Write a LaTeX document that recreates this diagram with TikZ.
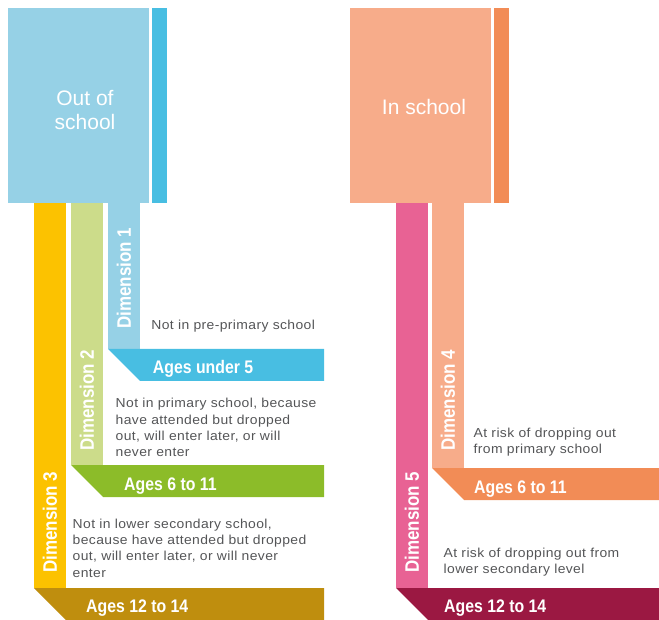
\documentclass[tikz,border=0pt]{standalone}
\usepackage{fontspec}
\setmainfont{Liberation Sans}
\newfontfamily\condfont[FakeStretch=0.87]{Liberation Sans}
\newfontfamily\descfont[FakeStretch=1.07,LetterSpace=3]{Liberation Sans}
\definecolor{boxblue}{HTML}{96D1E6}
\definecolor{deepblue}{HTML}{48BEE2}
\definecolor{palegreen}{HTML}{CCDC8A}
\definecolor{deepgreen}{HTML}{8CBC29}
\definecolor{yellowbar}{HTML}{FCC200}
\definecolor{darkgold}{HTML}{BF8E0E}
\definecolor{salmon}{HTML}{F7AC8A}
\definecolor{deeporange}{HTML}{F28C56}
\definecolor{pinkbar}{HTML}{E86294}
\definecolor{maroon}{HTML}{9B1842}
\definecolor{descgray}{HTML}{545557}
\begin{document}
\begin{tikzpicture}[x=1pt,y=-1pt,
  dimlabel/.style={font=\condfont\bfseries\fontsize{19.5}{20}\selectfont, text=white, rotate=90, anchor=west, inner sep=0pt},
  agelabel/.style={font=\condfont\bfseries\fontsize{18.2}{20}\selectfont, text=white, anchor=base west, inner sep=0pt},
  desc/.style={font=\descfont\fontsize{13}{16.3}\selectfont, text=descgray, align=left, anchor=north west, inner sep=0pt},
  bigtext/.style={font=\fontsize{21}{24.5}\selectfont, text=white, align=center, inner sep=0pt}]
\useasboundingbox (0,0) rectangle (659,620);
% left group
\fill[boxblue] (8,8) rectangle (149,203);
\fill[deepblue] (152,8) rectangle (167,203);
\fill[boxblue] (108,203) rectangle (140,349);
\fill[palegreen] (71,203) rectangle (103,465);
\fill[yellowbar] (34,203) rectangle (66,588);
\fill[deepblue] (108,349) -- (324,349) -- (324,381) -- (140,381) -- cycle;
\fill[deepgreen] (71,465) -- (324,465) -- (324,497) -- (103,497) -- cycle;
\fill[darkgold] (34,588) -- (324,588) -- (324,620) -- (66,620) -- cycle;
% right group
\fill[salmon] (350,8) rectangle (491,203);
\fill[deeporange] (494,8) rectangle (509,203);
\fill[salmon] (432,203) rectangle (464,468);
\fill[pinkbar] (396,203) rectangle (428,588);
\fill[deeporange] (432,468) -- (659,468) -- (659,500) -- (464,500) -- cycle;
\fill[maroon] (396,588) -- (659,588) -- (659,620) -- (428,620) -- cycle;
% big texts
\node[bigtext] (out) at (85,110) {Out of\\school};
\node[bigtext, anchor=base] (in) at (424,114.3) {In school};
% dimension labels
\node[dimlabel] (d1) at (124,329) {Dimension 1};
\node[dimlabel] (d2) at (87,451) {Dimension 2};
\node[dimlabel] (d3) at (50,573) {Dimension 3};
\node[dimlabel] (d4) at (448,451) {Dimension 4};
\node[dimlabel] (d5) at (412,573) {Dimension 5};
% age labels
\node[agelabel] (a1) at (152.7,373.3) {Ages under 5};
\node[agelabel] (a2) at (124,490) {Ages 6 to 11};
\node[agelabel] (a3) at (86,612) {Ages 12 to 14};
\node[agelabel] (a4) at (474,493) {Ages 6 to 11};
\node[agelabel] (a5) at (444,612) {Ages 12 to 14};
% descriptions
\node[desc] (t1) at (151.2,319.6) {Not in pre-primary school};
\node[desc] (t2) at (115.5,398.3) {Not in primary school, because\\have attended but dropped\\out, will enter later, or will\\never enter};
\node[desc] (t3) at (72.5,518.6) {Not in lower secondary school,\\because have attended but dropped\\out, will enter later, or will never\\enter};
\node[desc] (t4) at (473.5,427.6) {At risk of dropping out\\from primary school};
\node[desc] (t5) at (443.5,547.6) {At risk of dropping out from\\lower secondary level};
\end{tikzpicture}
\end{document}
